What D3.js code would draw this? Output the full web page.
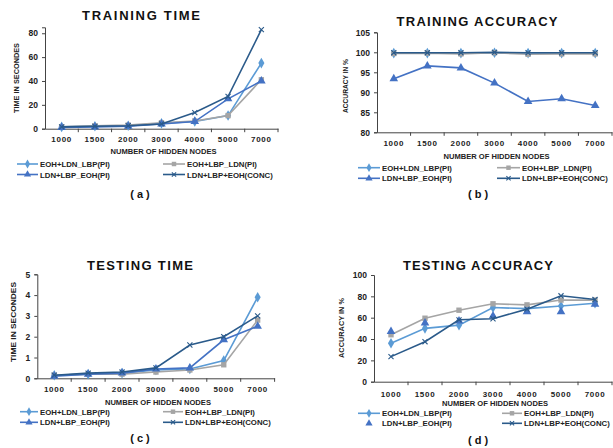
<!DOCTYPE html>
<html><head><meta charset="utf-8">
<script src="https://cdn.jsdelivr.net/npm/d3@7"></script>
<style>
html,body{margin:0;padding:0;background:#fff;}
svg{display:block;font-family:"Liberation Sans",Arial,sans-serif;}
</style></head>
<body>
<svg id="c" width="613" height="448"></svg>
<script>
// ---------- DATA ----------
const categories = ["1000","1500","2000","3000","4000","5000","7000"];
const seriesNames = ["EOH+LDN_LBP(PI)","EOH+LBP_LDN(PI)","LDN+LBP_EOH(PI)","LDN+LBP+EOH(CONC)"];
const panelTitles = ["TRAINING TIME","TRAINING ACCURACY","TESTING TIME","TESTING ACCURACY"];
const panelLabels = ["( a )","( b )","( c )","( d )"];
const yAxisTitles = ["TIME IN SECONDES","ACCURACY IN %","TIME IN SECONDES","ACCURACY IN %"];
const xAxisTitle = "NUMBER OF HIDDEN NODES";

// (a) training time
const trainTime_EOH_LDN_LBP = [1.5, 2, 2.5, 4.5, 6, 11, 55];
const trainTime_EOH_LBP_LDN = [1.5, 2.5, 3, 5, 6.5, 11, 41];
const trainTime_LDN_LBP_EOH = [1, 1.5, 2, 4, 6, 25, 40];
const trainTime_CONC        = [1.5, 2, 2.5, 4, 13.5, 27, 83];
const trainTimeTicks = [0, 20, 40, 60, 80];

// (b) training accuracy
const trainAcc_EOH_LDN_LBP = [99.8, 99.8, 99.8, 99.9, 99.8, 99.8, 99.8];
const trainAcc_EOH_LBP_LDN = [99.7, 99.8, 99.6, 99.9, 99.5, 99.6, 99.6];
const trainAcc_LDN_LBP_EOH = [93.4, 96.6, 96.1, 92.3, 87.7, 88.4, 86.7];
const trainAcc_CONC        = [99.9, 99.9, 99.9, 100, 99.9, 99.9, 99.9];
const trainAccTicks = [80, 85, 90, 95, 100, 105];

// (c) testing time
const testTime_EOH_LDN_LBP = [0.15, 0.2, 0.25, 0.4, 0.45, 0.85, 3.9];
const testTime_EOH_LBP_LDN = [0.15, 0.2, 0.2, 0.3, 0.4, 0.65, 2.8];
const testTime_LDN_LBP_EOH = [0.1, 0.2, 0.25, 0.45, 0.5, 1.85, 2.5];
const testTime_CONC        = [0.15, 0.25, 0.3, 0.5, 1.6, 2.0, 3.0];
const testTimeTicks = [0, 1, 2, 3, 4, 5];

// (d) testing accuracy
const testAcc_EOH_LDN_LBP = [36, 50, 53, 69.5, 68.5, 71, 73.5];
const testAcc_EOH_LBP_LDN = [44, 59.5, 67, 73, 72, 76.5, 76.5];
const testAcc_LDN_LBP_EOH = [47, 55, 57, 61.5, 65.5, 65.5, 72.5];
const testAcc_CONC        = [23.5, 37.5, 58, 59, 68, 80.5, 77];
const testAccTicks = [0, 20, 40, 60, 80, 100];

// ---------- STYLE / LAYOUT ----------
const colors = ["#5b9bd5", "#a5a5a5", "#4472c4", "#2a5a8a"];
const symbols = [d3.symbolDiamond, d3.symbolSquare, d3.symbolTriangle, "x"];

const panels = [
  {series:[trainTime_EOH_LDN_LBP,trainTime_EOH_LBP_LDN,trainTime_LDN_LBP_EOH,trainTime_CONC],
   ticks:trainTimeTicks, domain:[0,85], x0:45, x1:278, yT:27.3, yB:128.7,
   titleX:141, titleY:19.5, titleW:118, ylX:19, ylY:78, ylW:70, tickY:142, xlY:153.5,
   legY:[164,174.5], c1:[17,38,40], c2:[163,185,187], labY:198, labX:140, noLine:-1},
  {series:[trainAcc_EOH_LDN_LBP,trainAcc_EOH_LBP_LDN,trainAcc_LDN_LBP_EOH,trainAcc_CONC],
   ticks:trainAccTicks, domain:[80,105], x0:377, x1:612, yT:32.3, yB:132.3,
   titleX:477, titleY:26, titleW:161, ylX:348, ylY:86, ylW:54, tickY:146, xlY:158.5,
   legY:[167.7,178.3], c1:[358,380,382], c2:[497,520,522], labY:197.5, labX:478, noLine:-1},
  {series:[testTime_EOH_LDN_LBP,testTime_EOH_LBP_LDN,testTime_LDN_LBP_EOH,testTime_CONC],
   ticks:testTimeTicks, domain:[0,5], x0:37.3, x1:274.6, yT:274.3, yB:378.3,
   titleX:140, titleY:269.5, titleW:106, ylX:16, ylY:322, ylW:80, tickY:391.5, xlY:404.5,
   legY:[411.7,422.3], c1:[20,38,40], c2:[163,183,185], labY:441.5, labX:140, noLine:-1},
  {series:[testAcc_EOH_LDN_LBP,testAcc_EOH_LBP_LDN,testAcc_LDN_LBP_EOH,testAcc_CONC],
   ticks:testAccTicks, domain:[0,100], x0:374, x1:612, yT:275, yB:381.7,
   titleX:478, titleY:270, titleW:150, ylX:344, ylY:328, ylW:60, tickY:396.5, xlY:405.5,
   legY:[413.3,423.3], c1:[358,380,382], c2:[502,522,524], labY:443.5, labX:478, noLine:2}
];

const svg = d3.select("#c");

function marker(g, i, x, y, sz) {
  const col = colors[i];
  if (symbols[i] === "x") {
    const s = sz * 0.85;
    g.append("path")
      .attr("d", `M${x-s},${y-s}L${x+s},${y+s}M${x-s},${y+s}L${x+s},${y-s}`)
      .attr("stroke", col).attr("stroke-width", 1.1).attr("fill", "none");
  } else {
    const area = symbols[i] === d3.symbolSquare ? sz*sz*3.2 : sz*sz*3.6;
    g.append("path")
      .attr("d", d3.symbol().type(symbols[i]).size(area)())
      .attr("transform", `translate(${x},${y})`)
      .attr("fill", col);
  }
}

panels.forEach((p, pi) => {
  const g = svg.append("g");
  const x = d3.scaleBand().domain(categories).range([p.x0, p.x1]);
  const y = d3.scaleLinear().domain(p.domain).range([p.yB, p.yT]);

  // axes
  const yAxis = d3.axisLeft(y).tickValues(p.ticks).tickFormat(d => String(d)).tickSize(3).tickPadding(4);
  const ya = g.append("g").attr("transform", `translate(${p.x0},0)`).call(yAxis);
  const xAxis = d3.axisBottom(x).tickSize(0).tickFormat(() => "");
  const xa = g.append("g").attr("transform", `translate(0,${p.yB})`).call(xAxis);
  [ya, xa].forEach(a => {
    a.select(".domain").attr("stroke", "#444").attr("stroke-width", 1);
    a.selectAll("line").attr("stroke", "#444");
  });
  ya.selectAll("text").attr("font-size", 8.5).attr("font-weight", "bold").attr("fill", "#222")
    .attr("font-family", "'Liberation Sans',Arial,sans-serif");
  // category-boundary tick marks
  g.selectAll(".xb").data(categories.slice(1)).enter().append("line")
    .attr("x1", d => x(d)).attr("x2", d => x(d))
    .attr("y1", p.yB).attr("y2", p.yB + 3.5)
    .attr("stroke", "#444");
  g.append("line").attr("x1", p.x1).attr("x2", p.x1).attr("y1", p.yB).attr("y2", p.yB + 3.5).attr("stroke", "#444");
  // category labels
  g.selectAll(".xl").data(categories).enter().append("text")
    .attr("x", d => x(d) + x.bandwidth()/2).attr("y", p.tickY)
    .attr("text-anchor", "middle").attr("font-size", 8).attr("font-weight", "bold")
    .attr("letter-spacing", 0.7).attr("fill", "#222").text(d => d);

  // lines & markers
  p.series.forEach((vals, si) => {
    const pts = vals.map((v, k) => [x(categories[k]) + x.bandwidth()/2, y(v)]);
    if (p.noLine !== si) {
      g.append("path").datum(pts)
        .attr("d", d3.line())
        .attr("fill", "none").attr("stroke", colors[si]).attr("stroke-width", 1.6);
    }
    pts.forEach(pt => marker(g, si, pt[0], pt[1], 3));
  });

  // titles
  g.append("text").attr("x", p.titleX).attr("y", p.titleY).attr("text-anchor", "middle")
    .attr("font-size", 13).attr("font-weight", "bold")
    .attr("textLength", p.titleW).attr("lengthAdjust", "spacing")
    .attr("fill", "#111").text(panelTitles[pi]);
  g.append("text").attr("transform", `translate(${p.ylX},${p.ylY}) rotate(-90)`)
    .attr("text-anchor", "middle").attr("font-size", 7.5).attr("font-weight", "bold")
    .attr("textLength", p.ylW).attr("lengthAdjust", "spacingAndGlyphs")
    .attr("fill", "#222").text(yAxisTitles[pi]);
  g.append("text").attr("x", (p.x0 + p.x1)/2 + 2).attr("y", p.xlY).attr("text-anchor", "middle")
    .attr("font-size", 7.5).attr("font-weight", "bold")
    .attr("textLength", 106).attr("lengthAdjust", "spacingAndGlyphs")
    .attr("fill", "#222").text(xAxisTitle);

  // legend
  seriesNames.forEach((name, si) => {
    const col = si % 2 === 0 ? p.c1 : p.c2;
    const ly = p.legY[Math.floor(si / 2)];
    if (p.noLine !== si) {
      g.append("line").attr("x1", col[0]).attr("x2", col[1]).attr("y1", ly).attr("y2", ly)
        .attr("stroke", colors[si]).attr("stroke-width", 1.6);
    }
    marker(g, si, (col[0] + col[1]) / 2, ly, 2.5);
    g.append("text").attr("x", col[2]).attr("y", ly + 3).attr("font-size", 7.8)
      .attr("font-weight", "bold").attr("fill", "#222").text(name);
  });

  g.append("text").attr("x", p.labX).attr("y", p.labY).attr("text-anchor", "middle")
    .attr("font-size", 11).attr("font-weight", "bold").attr("fill", "#111").text(panelLabels[pi]);
});
</script>
</body></html>
